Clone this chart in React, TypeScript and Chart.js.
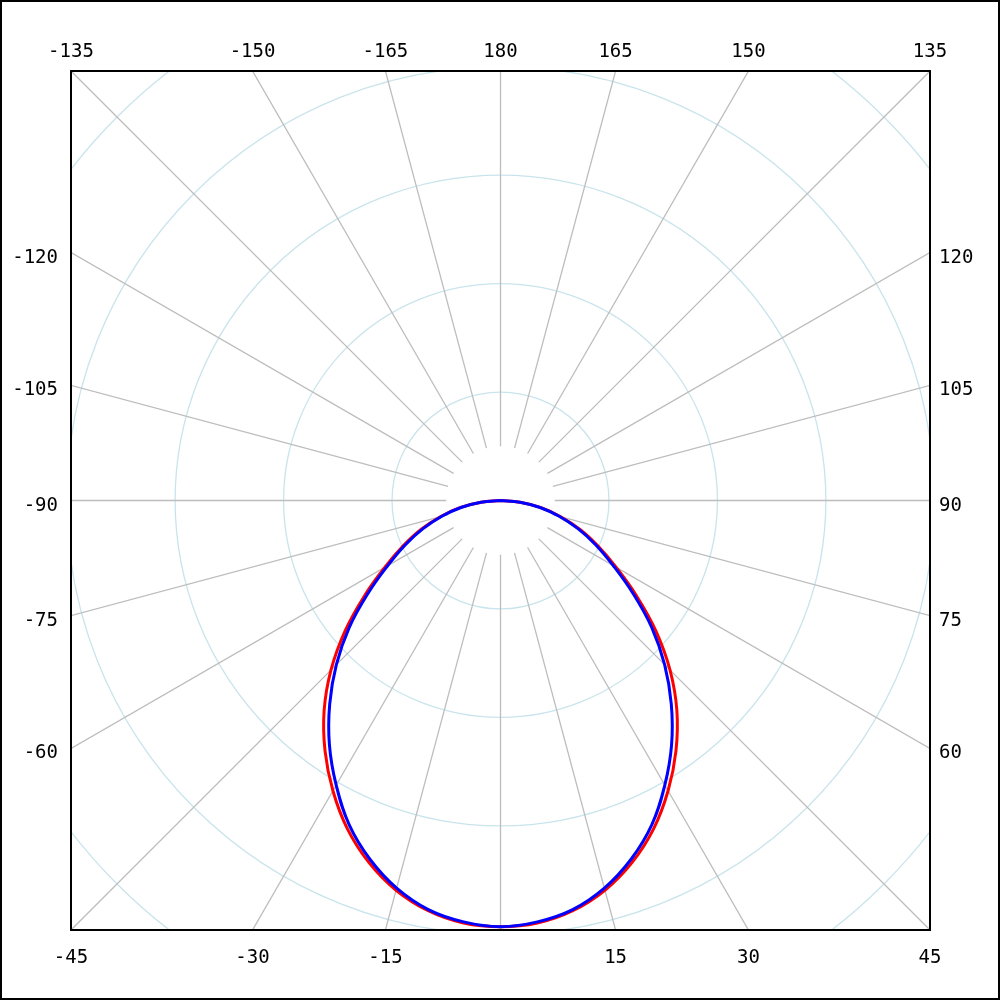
import React, { useEffect, useRef } from "react";
import { Chart, registerables } from "chart.js";

Chart.register(...registerables);

// Angles (degrees, 0 = straight down, positive = to the right)
const ANGLES = [
  -90, -85, -80, -75, -70, -65, -60, -55, -50, -45, -40, -35, -30, -25, -20, -15, -10, -5,
  0, 5, 10, 15, 20, 25, 30, 35, 40, 45, 50, 55, 60, 65, 70, 75, 80, 85, 90,
];
// Intensity values (grid rings every 100)
const BLUE_VALUES = [
  0, 18, 37, 56, 76, 97, 120, 149, 182, 214, 245, 275, 303, 330, 352, 370, 383, 390,
  393, 390, 383, 370, 352, 330, 303, 275, 245, 214, 182, 149, 120, 97, 76, 56, 37, 18, 0,
];
const RED_VALUES = [
  0, 18, 38, 57, 78, 99, 123, 153, 187, 221, 253, 282, 309, 334, 355, 372, 384, 391,
  393, 391, 384, 372, 355, 334, 309, 282, 253, 221, 187, 153, 123, 99, 78, 57, 38, 18, 0,
];
const RING_VALUES = [100, 200, 300, 400, 500, 600];
const SPOKE_ANGLES = [0, 15, 30, 45, 60, 75, 90, 105, 120, 135, 150, 165, 180, 195, 210, 225, 240, 255, 270, 285, 300, 315, 330, 345];
const EDGE_LABEL_ANGLES = [
  -135, -150, -165, 180, 165, 150, 135,
  -120, -105, -90, -75, -60,
  120, 105, 90, 75, 60,
  -45, -30, -15, 15, 30, 45,
];
const LIMIT = 396;
const SPOKE_INNER = 50;

const toRad = (d: number) => (d * Math.PI) / 180;
const toXY = (angle: number, r: number) => ({
  x: r * Math.sin(toRad(angle)),
  y: -r * Math.cos(toRad(angle)),
});

const FONT = "19px 'DejaVu Sans Mono', monospace";

const polarGrid = {
  id: "polarGrid",
  beforeDraw(chart: any) {
    const ctx = chart.ctx;
    ctx.save();
    ctx.fillStyle = "#ffffff";
    ctx.fillRect(0, 0, chart.width, chart.height);
    ctx.restore();
  },
  beforeDatasetsDraw(chart: any) {
    const { ctx, chartArea: a, scales } = chart;
    const xs = scales.x;
    const ys = scales.y;
    const cx = xs.getPixelForValue(0);
    const cy = ys.getPixelForValue(0);
    const unit = xs.getPixelForValue(1) - cx;
    ctx.save();
    ctx.beginPath();
    ctx.rect(a.left, a.top, a.right - a.left, a.bottom - a.top);
    ctx.clip();
    ctx.lineWidth = 1.3;
    ctx.strokeStyle = "#c9e4ec";
    RING_VALUES.forEach((v) => {
      ctx.beginPath();
      ctx.arc(cx, cy, v * unit, 0, Math.PI * 2);
      ctx.stroke();
    });
    ctx.strokeStyle = "#bdbdbd";
    ctx.lineWidth = 1.3;
    SPOKE_ANGLES.forEach((ang) => {
      const p0 = toXY(ang, SPOKE_INNER);
      const p1 = toXY(ang, LIMIT * 1.6);
      ctx.beginPath();
      ctx.moveTo(xs.getPixelForValue(p0.x), ys.getPixelForValue(p0.y));
      ctx.lineTo(xs.getPixelForValue(p1.x), ys.getPixelForValue(p1.y));
      ctx.stroke();
    });
    ctx.restore();
  },
  afterDraw(chart: any) {
    const { ctx, chartArea: a, scales } = chart;
    const xs = scales.x;
    const ys = scales.y;
    ctx.save();
    ctx.strokeStyle = "#000000";
    ctx.lineWidth = 2;
    ctx.strokeRect(a.left, a.top, a.right - a.left, a.bottom - a.top);
    ctx.strokeRect(1, 1, chart.width - 2, chart.height - 2);

    ctx.fillStyle = "#000000";
    ctx.font = FONT;
    ctx.textBaseline = "alphabetic";
    EDGE_LABEL_ANGLES.forEach((ang) => {
      const s = Math.sin(toRad(ang));
      const c = Math.cos(toRad(ang));
      const m = Math.max(Math.abs(s), Math.abs(c));
      const t = LIMIT / m;
      const ex = t * s;
      const ey = -t * c;
      const px = xs.getPixelForValue(ex);
      const py = ys.getPixelForValue(ey);
      const text = String(ang);
      if (Math.abs(c) >= Math.abs(s) - 1e-9) {
        ctx.textAlign = "center";
        if (ey > 0) ctx.fillText(text, px, a.top - 14);
        else ctx.fillText(text, px, a.bottom + 33);
      } else {
        if (ex < 0) {
          ctx.textAlign = "right";
          ctx.fillText(text, a.left - 13, py + 10);
        } else {
          ctx.textAlign = "left";
          ctx.fillText(text, a.right + 9, py + 10);
        }
      }
    });
    ctx.restore();
  },
};

export default function App() {
  const canvasRef = useRef<HTMLCanvasElement | null>(null);

  useEffect(() => {
    const canvas = canvasRef.current;
    if (!canvas) return;
    const blueData = ANGLES.map((ang, i) => toXY(ang, BLUE_VALUES[i]));
    const redData = ANGLES.map((ang, i) => toXY(ang, RED_VALUES[i]));
    const chart = new Chart(canvas, {
      type: "scatter",
      data: {
        datasets: [
          {
            label: "blue",
            data: blueData,
            showLine: true,
            borderColor: "#0000ff",
            backgroundColor: "#0000ff",
            borderWidth: 3,
            pointRadius: 0,
            tension: 0.4,
            fill: false,
          },
          {
            label: "red",
            data: redData,
            showLine: true,
            borderColor: "#ff0000",
            backgroundColor: "#ff0000",
            borderWidth: 3,
            pointRadius: 0,
            tension: 0.4,
            fill: false,
          },
        ],
      },
      options: {
        animation: false,
        responsive: false,
        maintainAspectRatio: false,
        devicePixelRatio: 1,
        layout: { padding: { left: 71, top: 71, right: 70, bottom: 70 } },
        plugins: {
          legend: { display: false },
          tooltip: { enabled: false },
        },
        scales: {
          x: { type: "linear", min: -LIMIT, max: LIMIT, display: false },
          y: { type: "linear", min: -LIMIT, max: LIMIT, display: false },
        },
      },
      plugins: [polarGrid],
    });
    return () => chart.destroy();
  }, []);

  return (
    <div style={{ position: "absolute", left: 0, top: 0, width: 1000, height: 1000 }}>
      <canvas ref={canvasRef} width={1000} height={1000} style={{ display: "block" }} />
    </div>
  );
}
